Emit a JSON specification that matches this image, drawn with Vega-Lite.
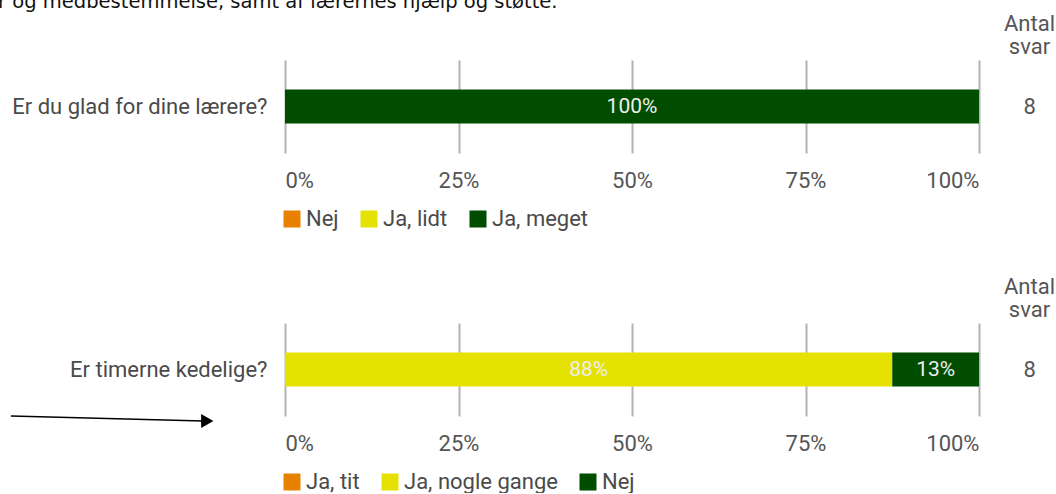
{
  "$schema": "https://vega.github.io/schema/vega-lite/v6.json",
  "padding": {"left": -2, "top": -8, "right": 0, "bottom": 0},
  "background": "white",
  "config": {
    "view": {"stroke": null},
    "font": "Roboto",
    "axis": {"labelFont": "Roboto", "titleFont": "Roboto"},
    "legend": {"labelFont": "Roboto"}
  },
  "title": {
    "text": "r og medbestemmelse, samt af lærernes hjælp og støtte.",
    "anchor": "start",
    "font": "DejaVu Sans",
    "fontSize": 19.5,
    "fontWeight": "normal",
    "color": "#111111",
    "dx": -12,
    "offset": -0.5
  },
  "spacing": 45,
  "resolve": {"scale": {"color": "independent"}},
  "vconcat": [
    {
      "width": 694,
      "height": 93,
      "data": {"values": [
        {"spoergsmaal": "Er du glad for dine lærere?", "svar": "Nej", "andel": 0, "antal": "8"},
        {"spoergsmaal": "Er du glad for dine lærere?", "svar": "Ja, lidt", "andel": 0, "antal": "8"},
        {"spoergsmaal": "Er du glad for dine lærere?", "svar": "Ja, meget", "andel": 1, "antal": "8"}
      ]},
      "resolve": {"scale": {"y": "independent"}},
      "layer": [
        {
          "mark": {"type": "bar", "height": 34},
          "encoding": {
            "y": {"field": "spoergsmaal", "type": "nominal", "axis": {"title": null, "domain": false, "ticks": false, "labelPadding": 18, "labelFontSize": 22, "labelColor": "#4a4a4a", "labelLimit": 400, "minExtent": 274, "maxExtent": 274}},
            "x": {"field": "andel", "type": "quantitative", "stack": "zero", "scale": {"domain": [0, 1]}, "axis": {"title": null, "format": ".0%", "values": [0, 0.25, 0.5, 0.75, 1], "domain": false, "ticks": false, "grid": true, "gridColor": "#b3b3b3", "gridWidth": 2, "labelFlush": true, "labelPadding": 17, "labelFontSize": 22, "labelColor": "#555"}},
            "color": {"field": "svar", "type": "nominal", "scale": {"domain": ["Nej", "Ja, lidt", "Ja, meget"], "range": ["#e88100", "#e5e100", "#004d00"]}, "legend": {"title": null, "orient": "none", "legendX": -4, "legendY": 148, "direction": "horizontal", "symbolType": "square", "symbolSize": 289, "symbolStrokeWidth": 0, "labelFontSize": 22, "labelColor": "#4a4a4a", "columnPadding": 19, "labelOffset": 3}}
          }
        },
        {
          "transform": [
            {"stack": "andel", "groupby": ["spoergsmaal"], "sort": [{"field": "svar"}], "as": ["v0", "v1"]},
            {"filter": "datum.andel > 0"},
            {"fold": ["v0", "v1"], "as": ["kant", "pos"]},
            {"aggregate": [{"op": "mean", "field": "pos", "as": "midte"}], "groupby": ["spoergsmaal", "svar", "andel"]}
          ],
          "mark": {"type": "text", "fontSize": 21, "color": "#eeeeee"},
          "encoding": {
            "y": {"field": "spoergsmaal", "type": "nominal", "axis": null},
            "x": {"field": "midte", "type": "quantitative"},
            "text": {"field": "andel", "type": "quantitative", "format": ".0%"}
          }
        },
        {
          "mark": {"type": "point", "opacity": 0},
          "encoding": {
            "y": {"field": "antal", "type": "nominal", "axis": {"orient": "right", "domain": false, "ticks": false, "labelPadding": 44, "labelFontSize": 22, "labelColor": "#555", "title": ["Antal", "svar"], "titleAngle": 0, "titleAlign": "center", "titleBaseline": "top", "titleX": 50, "titleY": -47, "titleFontSize": 22, "titleFontWeight": "normal", "titleColor": "#555", "titleLineHeight": 23}}
          }
        }
      ]
    },
    {
      "width": 694,
      "height": 93,
      "resolve": {"scale": {"y": "independent"}},
      "layer": [
        {
          "data": {"name": "kedelige", "values": [
            {"spoergsmaal": "Er timerne kedelige?", "svar": "Ja, tit", "andel": 0, "antal": "8"},
            {"spoergsmaal": "Er timerne kedelige?", "svar": "Ja, nogle gange", "andel": 0.875, "antal": "8"},
            {"spoergsmaal": "Er timerne kedelige?", "svar": "Nej", "andel": 0.125, "antal": "8"}
          ]},
          "mark": {"type": "bar", "height": 34},
          "encoding": {
            "y": {"field": "spoergsmaal", "type": "nominal", "axis": {"title": null, "domain": false, "ticks": false, "labelPadding": 18, "labelFontSize": 22, "labelColor": "#4a4a4a", "labelLimit": 400, "minExtent": 274, "maxExtent": 274}},
            "x": {"field": "andel", "type": "quantitative", "stack": "zero", "scale": {"domain": [0, 1]}, "axis": {"title": null, "format": ".0%", "values": [0, 0.25, 0.5, 0.75, 1], "domain": false, "ticks": false, "grid": true, "gridColor": "#b3b3b3", "gridWidth": 2, "labelFlush": true, "labelPadding": 17, "labelFontSize": 22, "labelColor": "#555"}},
            "color": {"field": "svar", "type": "nominal", "scale": {"domain": ["Ja, tit", "Ja, nogle gange", "Nej"], "range": ["#e88100", "#e5e100", "#004d00"]}, "legend": {"title": null, "orient": "none", "legendX": -4, "legendY": 148, "direction": "horizontal", "symbolType": "square", "symbolSize": 289, "symbolStrokeWidth": 0, "labelFontSize": 22, "labelColor": "#4a4a4a", "columnPadding": 19, "labelOffset": 3}}
          }
        },
        {
          "data": {"name": "kedelige"},
          "transform": [
            {"stack": "andel", "groupby": ["spoergsmaal"], "sort": [{"field": "svar"}], "as": ["v0", "v1"]},
            {"filter": "datum.andel > 0"},
            {"fold": ["v0", "v1"], "as": ["kant", "pos"]},
            {"aggregate": [{"op": "mean", "field": "pos", "as": "midte"}], "groupby": ["spoergsmaal", "svar", "andel"]}
          ],
          "mark": {"type": "text", "fontSize": 21, "color": "#eeeeee"},
          "encoding": {
            "y": {"field": "spoergsmaal", "type": "nominal", "axis": null},
            "x": {"field": "midte", "type": "quantitative"},
            "text": {"field": "andel", "type": "quantitative", "format": ".0%"}
          }
        },
        {
          "data": {"name": "kedelige"},
          "mark": {"type": "point", "opacity": 0},
          "encoding": {
            "y": {"field": "antal", "type": "nominal", "axis": {"orient": "right", "domain": false, "ticks": false, "labelPadding": 44, "labelFontSize": 22, "labelColor": "#555", "title": ["Antal", "svar"], "titleAngle": 0, "titleAlign": "center", "titleBaseline": "top", "titleX": 50, "titleY": -47, "titleFontSize": 22, "titleFontWeight": "normal", "titleColor": "#555", "titleLineHeight": 23}}
          }
        },
        {
          "data": {"values": [{"ax": -0.395, "ax2": -0.118, "ay": 0.0, "ay2": -0.054}]},
          "mark": {"type": "rule", "color": "#000", "strokeWidth": 1.5},
          "encoding": {
            "x": {"field": "ax", "type": "quantitative"},
            "x2": {"field": "ax2"},
            "y": {"field": "ay", "type": "quantitative", "scale": {"domain": [0, 1]}, "axis": null},
            "y2": {"field": "ay2"}
          }
        },
        {
          "data": {"values": [{"hx": -0.112, "hy": -0.054}]},
          "mark": {"type": "point", "shape": "triangle-right", "filled": true, "color": "#000", "opacity": 1, "size": 200},
          "encoding": {
            "x": {"field": "hx", "type": "quantitative"},
            "y": {"field": "hy", "type": "quantitative", "scale": {"domain": [0, 1]}, "axis": null}
          }
        }
      ]
    }
  ]
}
